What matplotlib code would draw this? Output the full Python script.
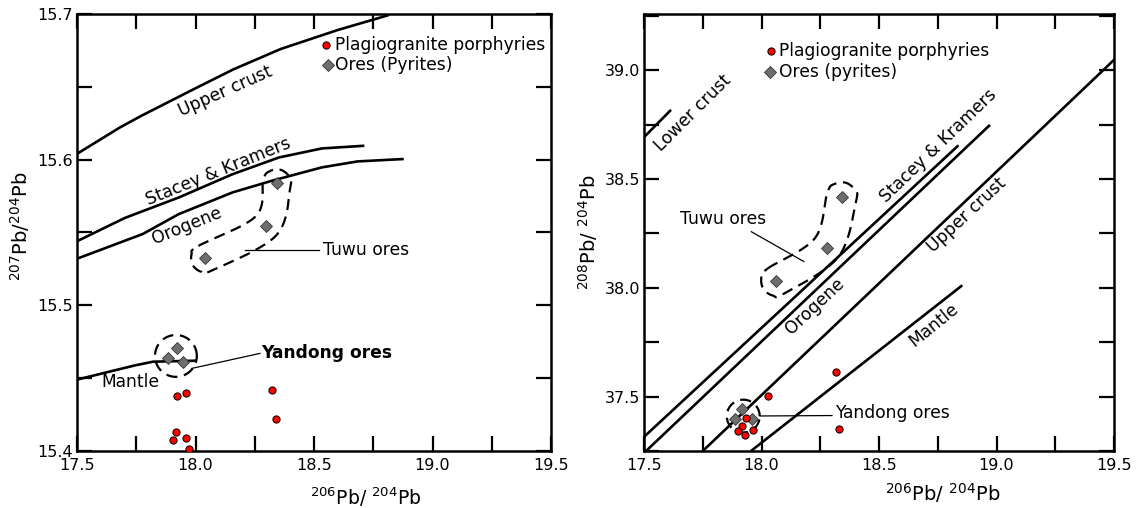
import numpy as np
import matplotlib
matplotlib.use("Agg")
import matplotlib.pyplot as plt
from matplotlib.ticker import FormatStrFormatter

plt.rcParams['font.family'] = ['DejaVu Sans']
plt.rcParams['mathtext.default'] = 'regular'

# ---------------- data: left panel (207Pb/204Pb vs 206Pb/204Pb) ----------------
plag_206_L = [17.922, 17.960, 18.323, 18.340, 17.919, 17.904, 17.960, 17.971]
plag_207_L = [15.438, 15.440, 15.4417, 15.422, 15.4128, 15.4076, 15.4091, 15.4012]
yandong_206_L = [17.885, 17.921, 17.946]
yandong_207_L = [15.464, 15.4705, 15.4613]
tuwu_206_L = [18.040, 18.297, 18.343]
tuwu_207_L = [15.5323, 15.5545, 15.5838]

uc_x_L = [17.5, 17.68, 17.77, 18.0, 18.16, 18.36, 18.6, 18.81]
uc_y_L = [15.604, 15.622, 15.630, 15.649, 15.662, 15.676, 15.689, 15.699]
sk_x_L = [17.5, 17.702, 17.929, 18.156, 18.352, 18.533, 18.707]
sk_y_L = [15.544, 15.560, 15.574, 15.590, 15.6015, 15.6077, 15.6095]
or_x_L = [17.5, 17.778, 17.929, 18.156, 18.322, 18.533, 18.684, 18.873]
or_y_L = [15.532, 15.549, 15.5626, 15.5775, 15.5855, 15.5947, 15.5988, 15.6004]
ma_x_L = [17.5, 17.74, 17.82, 18.0]
ma_y_L = [15.449, 15.4586, 15.4613, 15.462]

# ---------------- data: right panel (208Pb/204Pb vs 206Pb/204Pb) ----------------
plag_206_R = [18.029, 17.934, 17.917, 17.899, 17.929, 17.963, 18.331, 18.316]
plag_208_R = [37.505, 37.402, 37.364, 37.342, 37.323, 37.346, 37.349, 37.614]
yandong_206_R = [17.918, 17.889, 17.960]
yandong_208_R = [37.441, 37.395, 37.395]
tuwu_206_R = [18.062, 18.277, 18.341]
tuwu_208_R = [38.032, 38.185, 38.417]

lc_x_R = [17.504, 17.611]
lc_y_R = [38.697, 38.814]
sk_x_R = [17.5, 18.834]
sk_y_R = [37.315, 38.651]
or_x_R = [17.5, 18.968]
or_y_R = [37.241, 38.745]
uc_x_R = [17.75, 19.5]
uc_y_R = [37.250, 39.048]
ma_x_R = [17.96, 18.850]
ma_y_R = [37.254, 38.008]

x_major = [17.5, 18.0, 18.5, 19.0, 19.5]
x_minor = [17.75, 18.25, 18.75, 19.25]
yL_major = [15.4, 15.5, 15.6, 15.7]
yL_minor = [15.45, 15.55, 15.65]
yR_major = [37.5, 38.0, 38.5, 39.0]
yR_minor = [37.25, 37.75, 38.25, 38.75, 39.25]

RED = '#ff0000'
GRAY = '#6e6e6e'
TXT = 12.3
TICK = 11.5
MS_C = 5.2
MS_D = 6.0

fig = plt.figure(figsize=(11.37, 5.08), dpi=100)
axL = fig.add_axes([77/1137, 1-451/508, 474/1137, 437/508])
axR = fig.add_axes([644/1137, 1-451/508, 470/1137, 437/508])

axL.set_xlim(17.5, 19.5)
axL.set_ylim(15.4, 15.7)
axR.set_xlim(17.5, 19.5)
axR.set_ylim(37.264, 39.259)

for ax, ymaj, ymin in [(axL, yL_major, yL_minor), (axR, yR_major, yR_minor)]:
    ax.set_xticks(x_major)
    ax.set_xticks(x_minor, minor=True)
    ax.set_yticks(ymaj)
    ax.set_yticks(ymin, minor=True)
    ax.xaxis.set_major_formatter(FormatStrFormatter('%.1f'))
    ax.yaxis.set_major_formatter(FormatStrFormatter('%.1f'))
    ax.tick_params(which='both', direction='in', length=10.5, width=1.6,
                   top=True, right=True, labelsize=TICK, colors='black')
    ax.tick_params(axis='x', pad=5)
    ax.tick_params(axis='y', pad=3)
    for s in ax.spines.values():
        s.set_linewidth(1.8)


def outline_chain(ax, xs, ys, r, n=24):
    P = ax.transData.transform(np.column_stack([xs, ys]))
    m = len(P)
    T = []
    for i in range(m):
        a = P[max(i-1, 0)]
        b = P[min(i+1, m-1)]
        t = b - a
        T.append(t / np.hypot(*t))
    T = np.array(T)
    N = np.column_stack([-T[:, 1], T[:, 0]])
    c = 0.7071
    pts = [P[i] + r*N[i] for i in range(m)]
    pts += [P[-1] + r*c*(N[-1] + T[-1]), P[-1] + r*T[-1], P[-1] + r*c*(-N[-1] + T[-1])]
    pts += [P[i] - r*N[i] for i in range(m-1, -1, -1)]
    pts += [P[0] + r*c*(-N[0] - T[0]), P[0] - r*T[0], P[0] + r*c*(N[0] - T[0])]
    Q = np.array(pts)
    k = len(Q)
    out = []
    tt = np.linspace(0, 1, n, endpoint=False)[:, None]
    for i in range(k):
        p0, p1, p2, p3 = Q[(i-1) % k], Q[i], Q[(i+1) % k], Q[(i+2) % k]
        seg = 0.5*((2*p1) + (-p0+p2)*tt + (2*p0-5*p1+4*p2-p3)*tt**2
                   + (-p0+3*p1-3*p2+p3)*tt**3)
        out.append(seg)
    out = np.vstack(out)
    out = np.vstack([out, out[:1]])
    D = ax.transData.inverted().transform(out)
    ax.plot(D[:, 0], D[:, 1], color='black', lw=1.6, ls=(0, (5, 3)), zorder=3)


def outline_circle(ax, xs, ys, pad):
    P = ax.transData.transform(np.column_stack([xs, ys]))
    c = P.mean(axis=0)
    r = np.max(np.hypot(*(P - c).T)) + pad
    th = np.linspace(0, 2*np.pi, 200)
    Q = np.column_stack([c[0] + r*np.cos(th), c[1] + r*np.sin(th)])
    D = ax.transData.inverted().transform(Q)
    ax.plot(D[:, 0], D[:, 1], color='black', lw=1.6, ls=(0, (5, 3)), zorder=3)


fig.canvas.draw()

# ---------------- left panel ----------------
for xs, ys in [(uc_x_L, uc_y_L), (sk_x_L, sk_y_L), (or_x_L, or_y_L), (ma_x_L, ma_y_L)]:
    axL.plot(xs, ys, color='black', lw=1.9, zorder=2)

axL.plot(plag_206_L, plag_207_L, 'o', ms=MS_C, mfc=RED, mec='black', mew=0.7, ls='none', zorder=5)
axL.plot(yandong_206_L, yandong_207_L, 'D', ms=MS_D, mfc=GRAY, mec='#333333', mew=0.6, ls='none', zorder=5)
axL.plot(tuwu_206_L, tuwu_207_L, 'D', ms=MS_D, mfc=GRAY, mec='#333333', mew=0.6, ls='none', zorder=5)

outline_chain(axL, tuwu_206_L, tuwu_207_L, 14)
outline_circle(axL, yandong_206_L, yandong_207_L, 12)

axL.text(18.124, 15.6467, 'Upper crust', rotation=24, ha='center', va='center',
         rotation_mode='anchor', fontsize=TXT)
axL.text(18.098, 15.592, 'Stacey & Kramers', rotation=22, ha='center', va='center',
         rotation_mode='anchor', fontsize=TXT)
axL.text(17.965, 15.5547, 'Orogene', rotation=22, ha='center', va='center',
         rotation_mode='anchor', fontsize=TXT)
axL.text(17.727, 15.4476, 'Mantle', ha='center', va='center', fontsize=TXT)

axL.plot([18.209, 18.52], [15.538, 15.538], color='black', lw=0.9, zorder=2)
axL.text(18.539, 15.538, 'Tuwu ores', ha='left', va='center', fontsize=TXT)
axL.plot([17.984, 18.272], [15.4567, 15.467], color='black', lw=0.9, zorder=2)
axL.text(18.279, 15.467, 'Yandong ores', ha='left', va='center', fontsize=TXT,
         fontweight='bold')

axL.plot([18.551], [15.679], 'o', ms=MS_C, mfc=RED, mec='black', mew=0.7, zorder=5)
axL.plot([18.557], [15.665], 'D', ms=MS_D, mfc=GRAY, mec='#333333', mew=0.6, zorder=5)
axL.text(18.59, 15.679, 'Plagiogranite porphyries', ha='left', va='center', fontsize=TXT)
axL.text(18.59, 15.665, 'Ores (Pyrites)', ha='left', va='center', fontsize=TXT)

# ---------------- right panel ----------------
for xs, ys in [(lc_x_R, lc_y_R), (sk_x_R, sk_y_R), (or_x_R, or_y_R),
               (uc_x_R, uc_y_R), (ma_x_R, ma_y_R)]:
    axR.plot(xs, ys, color='black', lw=1.9, zorder=2)

axR.plot(plag_206_R, plag_208_R, 'o', ms=MS_C, mfc=RED, mec='black', mew=0.7, ls='none', zorder=5)
axR.plot(yandong_206_R, yandong_208_R, 'D', ms=MS_D, mfc=GRAY, mec='#333333', mew=0.6, ls='none', zorder=4)
axR.plot(tuwu_206_R, tuwu_208_R, 'D', ms=MS_D, mfc=GRAY, mec='#333333', mew=0.6, ls='none', zorder=5)

outline_chain(axR, tuwu_206_R, tuwu_208_R, 15)
outline_circle(axR, yandong_206_R, yandong_208_R, 7)

axR.text(17.707, 38.803, 'Lower crust', rotation=45, ha='center', va='center',
         rotation_mode='anchor', fontsize=TXT)
axR.text(18.751, 38.652, 'Stacey & Kramers', rotation=44, ha='center', va='center',
         rotation_mode='anchor', fontsize=TXT)
axR.text(18.874, 38.333, 'Upper crust', rotation=43, ha='center', va='center',
         rotation_mode='anchor', fontsize=TXT)
axR.text(18.227, 37.917, 'Orogene', rotation=43, ha='center', va='center',
         rotation_mode='anchor', fontsize=TXT)
axR.text(18.733, 37.830, 'Mantle', rotation=39, ha='center', va='center',
         rotation_mode='anchor', fontsize=TXT)

axR.text(17.652, 38.318, 'Tuwu ores', ha='left', va='center', fontsize=TXT)
axR.plot([17.957, 18.180], [38.258, 38.121], color='black', lw=0.9, zorder=2)
axR.plot([17.994, 18.300], [37.411, 37.413], color='black', lw=0.9, zorder=2)
axR.text(18.313, 37.424, 'Yandong ores', ha='left', va='center', fontsize=TXT)

axR.plot([18.040], [39.091], 'o', ms=MS_C, mfc=RED, mec='black', mew=0.7, zorder=5)
axR.plot([18.036], [38.991], 'D', ms=MS_D, mfc=GRAY, mec='#333333', mew=0.6, zorder=5)
axR.text(18.076, 39.091, 'Plagiogranite porphyries', ha='left', va='center', fontsize=TXT)
axR.text(18.076, 38.991, 'Ores (pyrites)', ha='left', va='center', fontsize=TXT)

# ---------------- axis labels ----------------
fig.text(366/1137, 1-497/508, r'$^{206}$Pb/ $^{204}$Pb', ha='center', va='center', fontsize=13.5)
fig.text(943/1137, 1-493/508, r'$^{206}$Pb/ $^{204}$Pb', ha='center', va='center', fontsize=14)
fig.text(20/1137, 1-226/508, r'$^{207}$Pb/$^{204}$Pb', ha='center', va='center',
         fontsize=14, rotation=90)
fig.text(587.6/1137, 1-232/508, r'$^{208}$Pb/ $^{204}$Pb', ha='center', va='center',
         fontsize=14, rotation=90)

fig.savefig('out.png', dpi=100)
